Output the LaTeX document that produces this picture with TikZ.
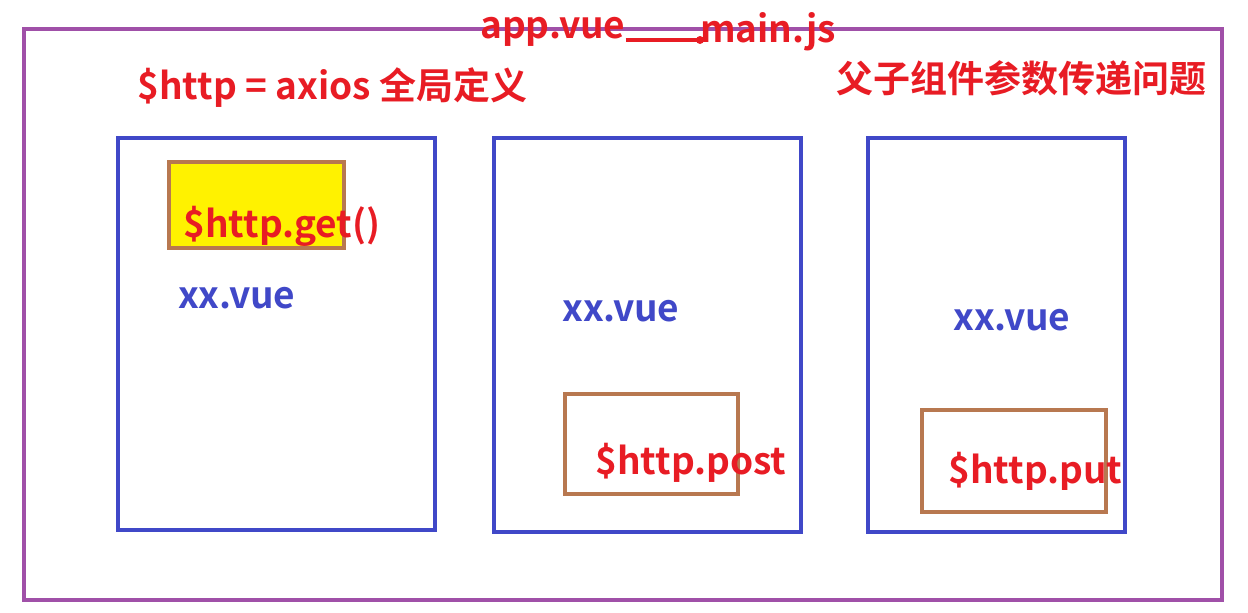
\documentclass[tikz,border=0pt]{standalone}
\usepackage{fontspec}
\newfontfamily\yh{Noto Sans CJK SC Bold}
\definecolor{pur}{HTML}{A050A8}
\definecolor{blu}{HTML}{4048C8}
\definecolor{brn}{HTML}{B87850}
\definecolor{rd}{HTML}{E81C24}
\begin{document}
\begin{tikzpicture}[x=1pt,y=-1pt,
  vbox/.style={draw=blu,line width=4pt},
  ibox/.style={draw=brn,line width=4pt},
  rtxt/.style={text=rd,font=\yh\fontsize{37}{37}\selectfont,inner sep=0pt,anchor=west},
  btxt/.style={text=blu,font=\yh\fontsize{37}{37}\selectfont,inner sep=0pt,anchor=west}]
\useasboundingbox (0,0) rectangle (1248,613);
\draw[draw=pur,line width=4pt] (24,29) rectangle (1222,600);
\draw[vbox] (118,138) rectangle (435,530);
\draw[vbox] (494,138) rectangle (801,532);
\draw[vbox] (868,138) rectangle (1125,532);
\draw[ibox,fill=yellow] (169,162) rectangle (344,248);
\draw[ibox] (565,394) rectangle (738,494);
\draw[ibox] (922,410) rectangle (1106,512);
\node[rtxt] (app) at (480,32) {app.vue};
\node[rtxt] (mainjs) at (700,32) {main.js};
\draw[rd,line width=4pt] (app.east |- 0,40) -- (mainjs.west |- 0,40) coordinate (e);
\fill[rd] (e) circle (4pt);
\node[rtxt] (axios) at (137,88) {\$http = axios 全局定义};
\node[rtxt] (title) at (836,78) {父子组件参数传递问题};
\node[rtxt] (get) at (183,226) {\$http.get()};
\node[btxt] (x1) at (178,298) {xx.vue};
\node[btxt] (x2) at (562,311) {xx.vue};
\node[btxt] (x3) at (953,320) {xx.vue};
\node[rtxt] (post) at (595,463) {\$http.post};
\begin{scope}
\clip (900,440) rectangle (1140,489);
\node[rtxt] (put) at (948,472) {\$http.put};
\end{scope}
\end{tikzpicture}
\end{document}
